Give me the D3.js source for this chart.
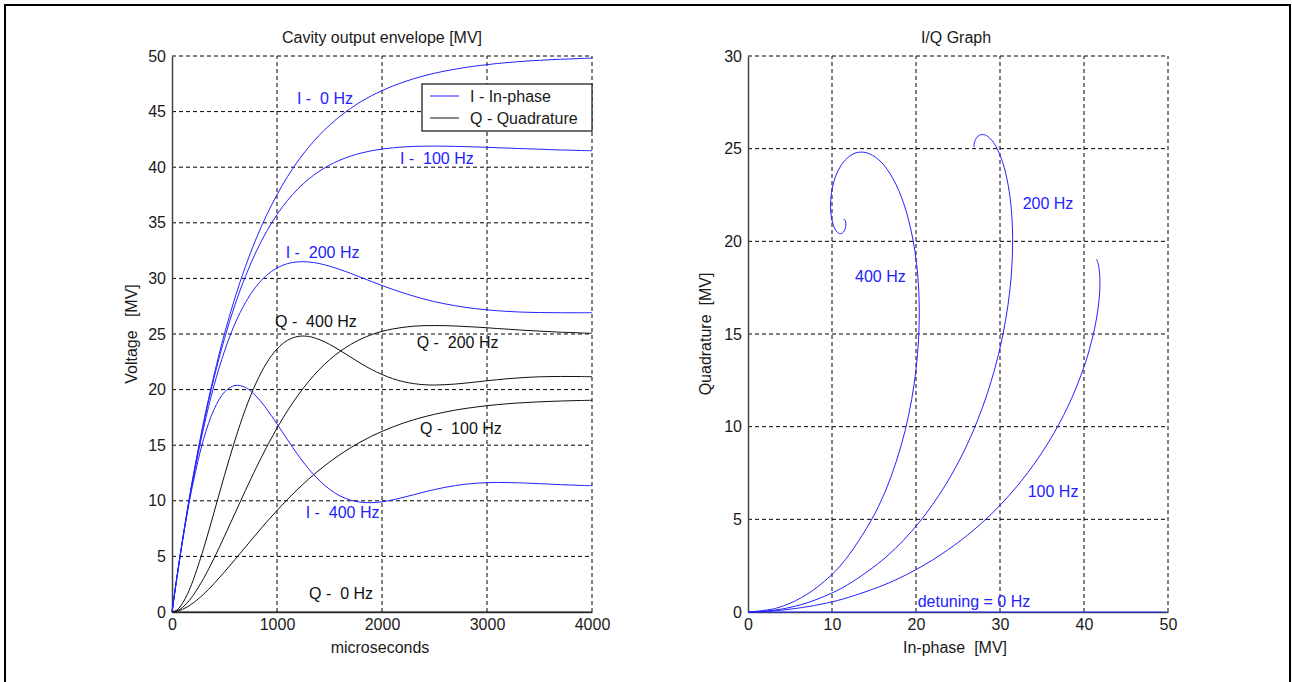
<!DOCTYPE html>
<html>
<head>
<meta charset="utf-8">
<script src="https://cdn.jsdelivr.net/npm/d3@7"></script>
<style>
body { margin: 0; background: #fff; }
text { font-family: "Liberation Sans", Arial, sans-serif; font-size: 16px; fill: #1a1a1a; white-space: pre; }
</style>
</head>
<body>
<script>
var width = 1292, height = 682;

// sample times, microseconds (extra points near the start where curves bend fast)
var time_us = [0,50,100,150,200,300,400,500,600,700,800,900,1000,1100,1200,1300,1400,1500,1600,1700,1800,1900,
               2000,2100,2200,2300,2400,2500,2600,2700,2800,2900,3000,3100,3200,3300,3400,3500,3600,3700,3800,3900,4000];

// in-phase envelope [MV] per detuning
var i_0hz   = [0,3.35,6.48,9.40,12.13,17.04,21.31,25.03,28.27,31.09,33.54,35.67,37.53,39.15,40.56,41.78,42.85,43.77,44.58,45.28,45.90,46.43,
               46.89,47.29,47.64,47.95,48.22,48.45,48.65,48.82,48.98,49.11,49.22,49.33,49.41,49.49,49.56,49.61,49.66,49.71,49.74,49.78,49.81];
var i_100hz = [0,3.34,6.45,9.35,12.05,16.88,21.03,24.59,27.63,30.20,32.38,34.21,35.74,37.01,38.06,38.92,39.62,40.19,40.64,40.99,41.27,41.48,
               41.63,41.74,41.82,41.87,41.89,41.90,41.89,41.87,41.85,41.82,41.79,41.75,41.72,41.68,41.65,41.62,41.58,41.55,41.53,41.50,41.48];
var i_200hz = [0,3.32,6.41,9.27,11.90,16.52,20.35,23.46,25.93,27.83,29.26,30.27,30.94,31.33,31.49,31.48,31.34,31.10,30.80,30.46,30.09,29.72,
               29.36,29.02,28.70,28.41,28.14,27.91,27.71,27.54,27.39,27.27,27.17,27.09,27.03,26.98,26.95,26.93,26.92,26.91,26.91,26.91,26.92];
var i_400hz = [0,3.32,6.38,9.13,11.58,15.52,18.21,19.78,20.37,20.19,19.42,18.27,16.91,15.49,14.12,12.89,11.86,11.04,10.44,10.06,9.87,9.83,
               9.91,10.08,10.30,10.54,10.79,11.01,11.21,11.37,11.50,11.58,11.63,11.65,11.64,11.62,11.58,11.54,11.50,11.45,11.42,11.38,11.36];

// quadrature envelope [MV] per detuning
var q_0hz   = [0,0,0,0,0,0,0,0,0,0,0,0,0,0,0,0,0,0,0,0,0,0,0,0,0,0,0,0,0,0,0,0,0,0,0,0,0,0,0,0,0,0,0];
var q_100hz = [0,0.07,0.24,0.48,0.80,1.59,2.55,3.61,4.72,5.85,6.98,8.08,9.13,10.13,11.07,11.94,12.75,13.48,14.16,14.77,15.31,15.81,
               16.24,16.63,16.98,17.28,17.55,17.78,17.98,18.16,18.31,18.44,18.55,18.65,18.73,18.80,18.85,18.90,18.94,18.97,19.00,19.02,19.04];
var q_200hz = [0,0.11,0.41,0.88,1.48,3.00,4.82,6.82,8.88,10.94,12.93,14.80,16.53,18.10,19.49,20.72,21.78,22.68,23.43,24.05,24.55,24.94,
               25.24,25.45,25.60,25.70,25.75,25.76,25.75,25.72,25.67,25.62,25.56,25.49,25.43,25.37,25.31,25.26,25.21,25.16,25.13,25.09,25.07];
var q_400hz = [0,0.20,0.78,1.67,2.82,5.68,8.95,12.30,15.46,18.26,20.58,22.38,23.65,24.43,24.78,24.78,24.51,24.07,23.52,22.93,22.34,21.81,
               21.36,20.99,20.72,20.54,20.44,20.41,20.44,20.50,20.59,20.69,20.80,20.89,20.98,21.05,21.11,21.15,21.17,21.18,21.18,21.17,21.16];

// ticks
var env_x_ticks = [0,1000,2000,3000,4000];
var env_y_ticks = [0,5,10,15,20,25,30,35,40,45,50];
var iq_x_ticks = [0,10,20,30,40,50];
var iq_y_ticks = [0,5,10,15,20,25,30];

// text annotations (data coords)
var env_labels = [
	{txt: 'I -  0 Hz',   x: 1190, y: 46.2,  c: 'blue'},
	{txt: 'I -  100 Hz', x: 2171, y: 40.8,  c: 'blue'},
	{txt: 'I -  200 Hz', x: 1083, y: 32.3,  c: 'blue'},
	{txt: 'Q -  400 Hz', x: 981,  y: 26.1,  c: 'black'},
	{txt: 'Q -  200 Hz', x: 2330, y: 24.2,  c: 'black'},
	{txt: 'Q -  100 Hz', x: 2362, y: 16.55, c: 'black'},
	{txt: 'I -  400 Hz', x: 1273, y: 8.93,  c: 'blue'},
	{txt: 'Q -  0 Hz',   x: 1305, y: 1.68,  c: 'black'}
];
var iq_labels = [
	{txt: '200 Hz', x: 32.7, y: 22.05},
	{txt: '400 Hz', x: 12.74, y: 18.09},
	{txt: '100 Hz', x: 33.3, y: 6.49},
	{txt: 'detuning = 0 Hz', x: 20.2, y: 0.56}
];

var blue = '#2222ff', black = '#111111';

var series = [
	{I: i_0hz, Q: q_0hz}, {I: i_100hz, Q: q_100hz},
	{I: i_200hz, Q: q_200hz}, {I: i_400hz, Q: q_400hz}
];

var svg = d3.select('body').append('svg').attr('width', width).attr('height', height);
svg.append('rect').attr('width', width).attr('height', height).attr('fill', '#fff');
// outer frame
svg.append('rect').attr('x', 5).attr('y', 5).attr('width', 1285).attr('height', 700)
	.attr('fill', 'none').attr('stroke', '#000').attr('stroke-width', 2);

function draw_frame(g, xs, ys, xt, yt) {
	// dotted grid
	g.selectAll('.gx').data(xt.filter(d => d != xt[0])).enter().append('line')
		.attr('x1', d => xs(d)).attr('x2', d => xs(d))
		.attr('y1', ys.range()[0]).attr('y2', ys.range()[1])
		.attr('stroke', '#000').attr('stroke-dasharray', '4,3');
	g.selectAll('.gy').data(yt.filter(d => d != yt[0])).enter().append('line')
		.attr('y1', d => ys(d)).attr('y2', d => ys(d))
		.attr('x1', xs.range()[0]).attr('x2', xs.range()[1])
		.attr('stroke', '#000').attr('stroke-dasharray', '4,3');
	var ax = g.append('g').attr('transform', 'translate(0,' + ys.range()[0] + ')')
		.call(d3.axisBottom(xs).tickValues(xt).tickSize(0).tickPadding(7).tickFormat(d3.format('d')));
	var ay = g.append('g').attr('transform', 'translate(' + xs.range()[0] + ',0)')
		.call(d3.axisLeft(ys).tickValues(yt).tickSize(0).tickPadding(6).tickFormat(d3.format('d')));
	[ax, ay].forEach(function(a) {
		a.select('.domain').attr('stroke', '#444').attr('stroke-width', 1.5);
		a.selectAll('text').attr('font-family', null).attr('font-size', null).style('fill', '#1a1a1a');
	});
}

// ---- left: cavity envelope
var xL = d3.scaleLinear().domain([0, 4000]).range([172, 592]);
var yL = d3.scaleLinear().domain([0, 50]).range([612, 56]);
var gL = svg.append('g');
draw_frame(gL, xL, yL, env_x_ticks, env_y_ticks);

var lineT = function(arr) {
	return d3.line().curve(d3.curveCatmullRom)
		.x((d, i) => xL(time_us[i])).y(d => yL(d))(arr);
};
series.forEach(function(s) {
	gL.append('path').attr('d', lineT(s.Q)).attr('fill', 'none').attr('stroke', black).attr('stroke-width', 1);
});
series.forEach(function(s) {
	gL.append('path').attr('d', lineT(s.I)).attr('fill', 'none').attr('stroke', blue).attr('stroke-width', 1);
});

gL.selectAll('.lbl').data(env_labels).enter().append('text')
	.attr('x', d => xL(d.x)).attr('y', d => yL(d.y)).attr('dy', '0.35em')
	.style('fill', d => d.c == 'blue' ? blue : '#111').text(d => d.txt);

gL.append('text').attr('x', 382).attr('y', 37).attr('dy', '0.35em').attr('text-anchor', 'middle')
	.text('Cavity output envelope [MV]');
gL.append('text').attr('x', 380).attr('y', 647).attr('dy', '0.35em').attr('text-anchor', 'middle')
	.text('microseconds');
gL.append('text').attr('transform', 'translate(131,334) rotate(-90)').attr('dy', '0.35em')
	.attr('text-anchor', 'middle').text('Voltage   [MV]');

// legend
var leg = gL.append('g').attr('transform', 'translate(422,84)');
leg.append('rect').attr('width', 170).attr('height', 47).attr('fill', '#fff')
	.attr('stroke', '#222').attr('stroke-width', 1.3);
[{t: 'I - In-phase', c: blue}, {t: 'Q - Quadrature', c: black}].forEach(function(d, i) {
	var yy = 12 + i * 22;
	leg.append('line').attr('x1', 8).attr('x2', 37).attr('y1', yy).attr('y2', yy)
		.attr('stroke', d.c).attr('stroke-width', 1);
	leg.append('text').attr('x', 48).attr('y', yy).attr('dy', '0.35em').text(d.t);
});

// ---- right: I/Q graph
var xR = d3.scaleLinear().domain([0, 50]).range([748, 1168]);
var yR = d3.scaleLinear().domain([0, 30]).range([612, 56]);
var gR = svg.append('g');
draw_frame(gR, xR, yR, iq_x_ticks, iq_y_ticks);

var lineIQ = d3.line().curve(d3.curveCatmullRom).x(d => xR(d[0])).y(d => yR(d[1]));
series.forEach(function(s) {
	var pts = s.I.map((v, i) => [v, s.Q[i]]);
	gR.append('path').attr('d', lineIQ(pts)).attr('fill', 'none').attr('stroke', blue).attr('stroke-width', 1);
});

gR.selectAll('.lbl').data(iq_labels).enter().append('text')
	.attr('x', d => xR(d.x)).attr('y', d => yR(d.y)).attr('dy', '0.35em')
	.style('fill', blue).text(d => d.txt);

gR.append('text').attr('x', 956).attr('y', 37).attr('dy', '0.35em').attr('text-anchor', 'middle')
	.text('I/Q Graph');
gR.append('text').attr('x', 955).attr('y', 647).attr('dy', '0.35em').attr('text-anchor', 'middle')
	.text('In-phase  [MV]');
gR.append('text').attr('transform', 'translate(705,334) rotate(-90)').attr('dy', '0.35em')
	.attr('text-anchor', 'middle').text('Quadrature  [MV]');
</script>
</body>
</html>
